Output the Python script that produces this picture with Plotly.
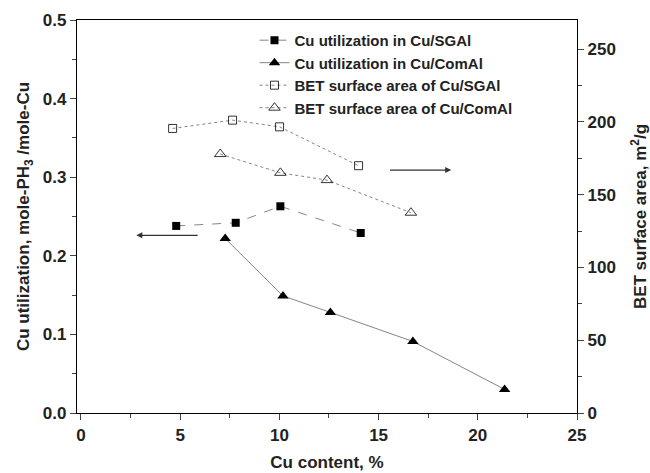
import plotly.graph_objects as go

# Data
sg_util_x = [4.8, 7.8, 10.05, 14.1]
sg_util_y = [0.238, 0.242, 0.263, 0.229]
com_util_x = [7.27, 10.18, 12.57, 16.73, 21.35]
com_util_y = [0.222, 0.149, 0.128, 0.091, 0.030]
sg_bet_x = [4.62, 7.64, 10.01, 13.99]
sg_bet_y = [195.5, 201.2, 196.6, 169.9]
com_bet_x = [7.02, 10.05, 12.4, 16.63]
com_bet_y = [177.9, 165.0, 160.0, 137.6]

FONT = "Liberation Sans, Arial, sans-serif"
LC = "#666666"

fig = go.Figure()
fig.add_trace(go.Scatter(x=sg_util_x, y=sg_util_y, mode="lines+markers",
    name="Cu utilization in Cu/SGAl", line=dict(color=LC, width=0.8, dash="dash"),
    marker=dict(symbol="square", size=8, color="black")))
fig.add_trace(go.Scatter(x=com_util_x, y=com_util_y, mode="lines+markers",
    name="Cu utilization in Cu/ComAl", line=dict(color=LC, width=0.8),
    marker=dict(symbol="triangle-up", size=10, color="black")))
fig.add_trace(go.Scatter(x=sg_bet_x, y=sg_bet_y, mode="lines+markers", yaxis="y2",
    name="BET surface area of Cu/SGAl", line=dict(color=LC, width=0.8, dash="dot"),
    marker=dict(symbol="square-open", size=8, color="black", line=dict(width=0.8))))
fig.add_trace(go.Scatter(x=com_bet_x, y=com_bet_y, mode="lines+markers", yaxis="y2",
    name="BET surface area of Cu/ComAl", line=dict(color=LC, width=0.8, dash="dot"),
    marker=dict(symbol="triangle-up-open", size=10, color="black", line=dict(width=0.8))))

# arrows
fig.add_annotation(x=2.79, y=0.226, ax=5.96, ay=0.226, xref="x", yref="y", axref="x", ayref="y",
    text="", showarrow=True, arrowhead=2, arrowsize=1, arrowwidth=1.2, arrowcolor="#333333")
fig.add_annotation(x=18.66, y=166.9, ax=15.5, ay=166.9, xref="x", yref="y2", axref="x", ayref="y2",
    text="", showarrow=True, arrowhead=2, arrowsize=1, arrowwidth=1.2, arrowcolor="#333333")

tickfont = dict(family=FONT, size=17, color="#222222", weight="bold")
titlefont = dict(family=FONT, size=17, color="#222222", weight="bold")

fig.update_layout(
    width=650, height=473,
    margin=dict(l=77, r=73, t=20, b=60, autoexpand=False),
    paper_bgcolor="white", plot_bgcolor="white",
    font=dict(family=FONT, color="#222222"),
    showlegend=True,
    legend=dict(x=0.355, y=0.99, xanchor="left", yanchor="top", bgcolor="rgba(0,0,0,0)",
                font=dict(family=FONT, size=15, color="#222222", weight="bold"), tracegroupgap=0),
    xaxis=dict(range=[-0.2, 25], tickvals=[0, 5, 10, 15, 20, 25], ticks="outside", ticklen=6,
               showline=True, linecolor="black", linewidth=1.2, mirror=True,
               showgrid=False, zeroline=False, tickfont=tickfont, automargin=False,
               minor=dict(ticks="outside", ticklen=4, dtick=2.5, tick0=0),
               title=dict(text="Cu content, %", font=titlefont, standoff=12)),
    yaxis=dict(range=[0, 0.5], tickvals=[0, 0.1, 0.2, 0.3, 0.4, 0.5], tickformat=".1f",
               ticks="outside", ticklen=6, showline=True, linecolor="black", linewidth=1.2,
               showgrid=False, zeroline=False, tickfont=tickfont, automargin=False,
               minor=dict(ticks="outside", ticklen=4, dtick=0.05, tick0=0),
               title=dict(text="Cu utilization, mole-PH<sub>3</sub> /mole-Cu", font=titlefont, standoff=8)),
    yaxis2=dict(range=[0, 270], overlaying="y", side="right", tickvals=[0, 50, 100, 150, 200, 250],
                ticks="outside", ticklen=6, showline=True, linecolor="black", linewidth=1.2,
                showgrid=False, zeroline=False, tickfont=tickfont, automargin=False,
                minor=dict(ticks="outside", ticklen=4, dtick=25, tick0=0),
                title=dict(text="BET surface area, m<sup>2</sup>/g", font=titlefont, standoff=19)),
)
fig.write_html("out.html")
